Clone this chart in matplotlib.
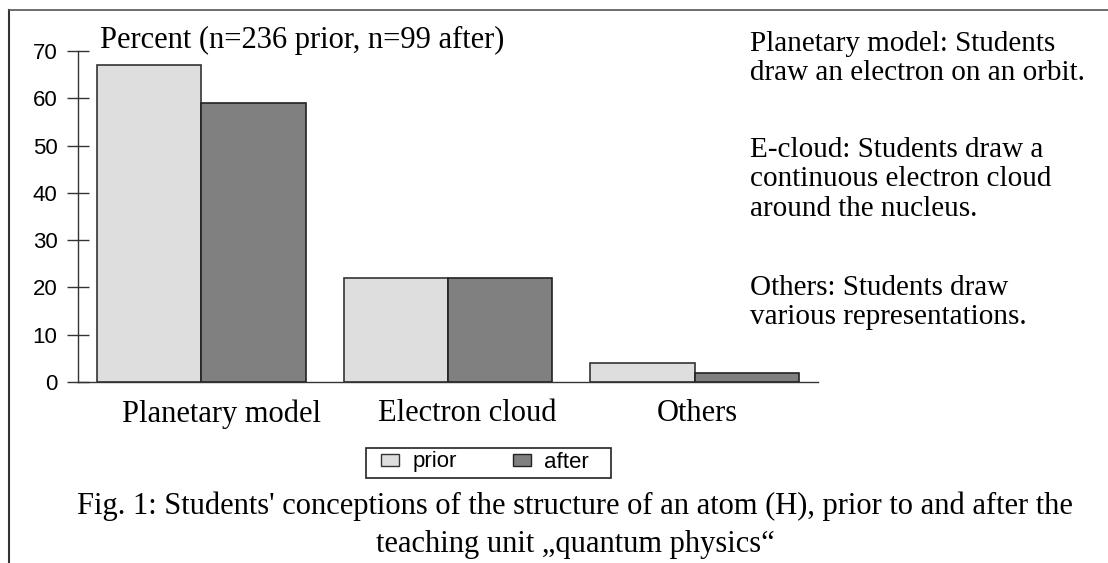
import numpy as np
import matplotlib.pyplot as plt
from matplotlib.lines import Line2D
from matplotlib.patches import Patch, Rectangle

categories = ["Planetary model", "Electron cloud", "Others"]
prior = [67, 22, 4]
after = [59, 22, 2]
yticks = [0, 10, 20, 30, 40, 50, 60, 70]

title = "Percent (n=236 prior, n=99 after)"
notes = [
    ["Planetary model: Students", "draw an electron on an orbit."],
    ["E-cloud: Students draw a", "continuous electron cloud", "around the nucleus."],
    ["Others: Students draw", "various representations."],
]
caption = ["Fig. 1: Students' conceptions of the structure of an atom (H), prior to and after the",
           "teaching unit \u201equantum physics\u201c"]

serif = "Liberation Serif"
sans = "Liberation Sans"
W, H = 1108, 563

fig = plt.figure(figsize=(W / 100, H / 100), dpi=100)
ax = fig.add_axes([78 / W, 181 / H, 740 / W, 331 / H])


def fy(py):
    return 1 - py / H


x = np.arange(len(categories))
w = 0.423
ax.bar(x - w / 2, prior, w, color="#dedede", edgecolor="#333333", linewidth=1.2)
ax.bar(x + w / 2, after, w, color="#808080", edgecolor="#222222", linewidth=1.2)

ax.set_xlim(-0.5, 2.5)
ax.set_ylim(0, 70)
ax.set_yticks(yticks)
ax.set_yticklabels([str(v) for v in yticks], fontfamily=sans, fontsize=16)
ax.tick_params(axis="y", direction="inout", length=16.5, width=1, color="#333333", pad=6.5)
# the category labels in the original sit a little right of their bar groups
label_shift = np.array([0.08, 0.08, 0.012])
ax.set_xticks(x + label_shift)
ax.set_xticklabels(categories, fontfamily=serif, fontsize=22)
ax.tick_params(axis="x", length=0, pad=12.5)
for s in ["top", "right"]:
    ax.spines[s].set_visible(False)
for s in ["left", "bottom"]:
    ax.spines[s].set_color("#333333")
    ax.spines[s].set_linewidth(1)

fig.text(100 / W, fy(48), title, fontfamily=serif, fontsize=22, va="baseline", ha="left")

# explanation text on the right, one line at a time
para_start = [51, 157, 295]
for y0, para in zip(para_start, notes):
    for i, line in enumerate(para):
        fig.text(750 / W, fy(y0 + 29.5 * i), line, fontfamily=serif, fontsize=21,
                 va="baseline", ha="left")

# legend with a hand-drawn frame
fig.add_artist(Rectangle((366 / W, fy(478)), 245 / W, 30 / H, transform=fig.transFigure,
                         facecolor="white", edgecolor="#222222", lw=1.2))
handles = [Patch(facecolor="#dedede", edgecolor="#333333", label="prior"),
           Patch(facecolor="#808080", edgecolor="#222222", label="after")]
fig.legend(handles=handles, loc="center", bbox_to_anchor=(485 / W, fy(462)),
           ncol=2, prop={"family": sans, "size": 16}, frameon=False,
           handlelength=0.82, handleheight=0.45, handletextpad=0.6, columnspacing=2.5,
           borderpad=0.1)

for i, line in enumerate(caption):
    fig.text(575 / W, fy(514 + 38 * i), line, fontfamily=serif, fontsize=22,
             ha="center", va="baseline")

# figure frame (top and left edges)
fig.add_artist(Line2D([9 / W, 9 / W], [0, fy(10)], color="#333333", lw=1.5,
                      transform=fig.transFigure))
fig.add_artist(Line2D([9 / W, 1], [fy(10), fy(10)], color="#555555", lw=1.2,
                      transform=fig.transFigure))

fig.savefig("out.png", dpi=100)
